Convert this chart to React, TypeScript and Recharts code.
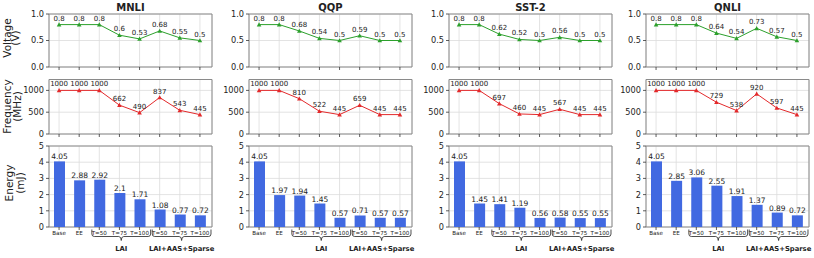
import React from 'react';
import {
  LineChart,
  ComposedChart,
  Line,
  Bar,
  XAxis,
  YAxis,
  CartesianGrid,
  LabelList,
  ReferenceArea,
} from 'recharts';

// ---------------- data ----------------
const categories = ['Base', 'EE', 'T=50', 'T=75', 'T=100', 'T=50', 'T=75', 'T=100'];
const datasets = ['MNLI', 'QQP', 'SST-2', 'QNLI'];

const mnliVoltage = [0.8, 0.8, 0.8, 0.6, 0.53, 0.68, 0.55, 0.5];
const mnliFreq = [1000, 1000, 1000, 662, 490, 837, 543, 445];
const mnliEnergy = [4.05, 2.88, 2.92, 2.1, 1.71, 1.08, 0.77, 0.72];

const qqpVoltage = [0.8, 0.8, 0.68, 0.54, 0.5, 0.59, 0.5, 0.5];
const qqpFreq = [1000, 1000, 810, 522, 445, 659, 445, 445];
const qqpEnergy = [4.05, 1.97, 1.94, 1.45, 0.57, 0.71, 0.57, 0.57];

const sstVoltage = [0.8, 0.8, 0.62, 0.52, 0.5, 0.56, 0.5, 0.5];
const sstFreq = [1000, 1000, 697, 460, 445, 567, 445, 445];
const sstEnergy = [4.05, 1.45, 1.41, 1.19, 0.56, 0.58, 0.55, 0.55];

const qnliVoltage = [0.8, 0.8, 0.8, 0.64, 0.54, 0.73, 0.57, 0.5];
const qnliFreq = [1000, 1000, 1000, 729, 538, 920, 597, 445];
const qnliEnergy = [4.05, 2.85, 3.06, 2.55, 1.91, 1.37, 0.89, 0.72];

const groups = [
  { label: 'LAI', from: 2, to: 4 },
  { label: 'LAI+AAS+Sparse', from: 5, to: 7 },
];

const voltageTicks = [0, 0.5, 1];
const freqTicks = [0, 500, 1000];
const energyTicks = [0, 1, 2, 3, 4, 5];

const seriesByDataset = [
  { v: mnliVoltage, f: mnliFreq, e: mnliEnergy },
  { v: qqpVoltage, f: qqpFreq, e: qqpEnergy },
  { v: sstVoltage, f: sstFreq, e: sstEnergy },
  { v: qnliVoltage, f: qnliFreq, e: qnliEnergy },
];

// ---------------- layout ----------------
const COL_LEFT = [49, 249, 449, 646];
const PW = 163;
const AX = 45;
const RIGHT_PAD = 8;
const X_DOMAIN: [number, number] = [-0.5, 7.6];
const xTicks = categories.map((_, i) => i);
const FONT = 'DejaVu Sans, sans-serif';

const GREEN = '#2ca02c';
const RED = '#e3292b';
const BLUE = '#4169e1';
const FRAME = '#8a8a8a';
const GRID = '#dcdcdc';
const TEXT = '#222';

const ROWCFG = {
  volt: { top: 0, mt: 14, h: 53, domain: [0, 1] as [number, number], ticks: voltageTicks, fmt: (v: number) => v.toFixed(1) },
  freq: { top: 70, mt: 9.5, h: 54.5, domain: [0, 1250] as [number, number], ticks: freqTicks, fmt: (v: number) => String(v) },
  energy: { top: 138, mt: 8, h: 81, domain: [0, 5] as [number, number], ticks: energyTicks, fmt: (v: number) => String(v) },
};

function Tri(props: any) {
  const { cx, cy, fill } = props;
  if (cx == null || cy == null) return null;
  const s = 2.3;
  return (
    <polygon
      points={`${cx},${cy - s} ${cx - s},${cy + s * 0.8} ${cx + s},${cy + s * 0.8}`}
      fill={fill}
    />
  );
}

function LinePanel({ rows, dataKey, color, cfg }: any) {
  const H = cfg.mt + cfg.h + 6;
  return (
    <LineChart
      width={AX + PW + RIGHT_PAD}
      height={H}
      data={rows}
      margin={{ top: cfg.mt, right: RIGHT_PAD, bottom: 0, left: 0 }}
    >
      <CartesianGrid stroke={GRID} strokeWidth={0.8} />
      <XAxis
        type="number"
        dataKey="i"
        domain={X_DOMAIN}
        ticks={xTicks}
        interval={0}
        allowDataOverflow
        tickFormatter={() => ''}
        tickSize={3}
        height={6}
        axisLine={false}
        tickLine={{ stroke: '#333', strokeWidth: 0.8 }}
      />
      <YAxis
        type="number"
        width={AX}
        domain={cfg.domain}
        ticks={cfg.ticks}
        interval={0}
        allowDataOverflow
        tickFormatter={cfg.fmt}
        tickSize={3}
        tickMargin={2}
        axisLine={false}
        tick={{ fontSize: 8.2, fill: TEXT, fontFamily: FONT }}
        tickLine={{ stroke: '#333', strokeWidth: 0.8 }}
      />
      <ReferenceArea
        x1={X_DOMAIN[0]}
        x2={X_DOMAIN[1]}
        y1={cfg.domain[0]}
        y2={cfg.domain[1]}
        fill="none"
        fillOpacity={0}
        stroke={FRAME}
        strokeWidth={1}
        ifOverflow="visible"
      />
      <Line
        type="linear"
        dataKey={dataKey}
        stroke={color}
        strokeWidth={1}
        isAnimationActive={false}
        activeDot={false}
        dot={(p: any) => <Tri key={`d${p.index}`} cx={p.cx} cy={p.cy} fill={color} />}
      >
        <LabelList
          dataKey={dataKey}
          position="top"
          offset={4}
          fontSize={7}
          fill={TEXT}
          fontFamily={FONT}
        />
      </Line>
    </LineChart>
  );
}

function EnergyTick(props: any) {
  const { x, y, payload } = props;
  const idx = payload.value as number;
  const unit = PW / (X_DOMAIN[1] - X_DOMAIN[0]);
  const baseY = y - 5; // axis line position (tickSize + tickMargin)
  const g = groups.find((gr) => gr.from === idx);
  let bracket = null;
  if (g) {
    const x0 = x - 0.37 * unit;
    const x1 = x + (g.to - g.from + 0.55) * unit;
    const xm = (x0 + x1) / 2;
    const top = baseY + 2.5;
    const bot = baseY + 9.5;
    const r = 2.5;
    const d = `M${x0},${top} L${x0},${bot - r} Q${x0},${bot} ${x0 + r},${bot} L${xm - r},${bot} Q${xm},${bot} ${xm},${bot + 4} Q${xm},${bot} ${xm + r},${bot} L${x1 - r},${bot} Q${x1},${bot} ${x1},${bot - r} L${x1},${top}`;
    bracket = (
      <g>
        <path d={d} fill="none" stroke={TEXT} strokeWidth={0.8} />
        <text
          x={xm}
          y={baseY + 23.5}
          textAnchor="middle"
          fontSize={6.8}
          fontWeight="bold"
          fill={TEXT}
          fontFamily={FONT}
        >
          {g.label}
        </text>
      </g>
    );
  }
  return (
    <g>
      <text x={x} y={baseY + 8} textAnchor="middle" fontSize={5.6} fill={TEXT} fontFamily={FONT}>
        {categories[idx]}
      </text>
      {bracket}
    </g>
  );
}

function EnergyPanel({ rows, cfg }: any) {
  const XH = 31;
  const H = cfg.mt + cfg.h + XH;
  return (
    <ComposedChart
      width={AX + PW + RIGHT_PAD}
      height={H}
      data={rows}
      margin={{ top: cfg.mt, right: RIGHT_PAD, bottom: 0, left: 0 }}
    >
      <CartesianGrid stroke={GRID} strokeWidth={0.8} />
      <XAxis
        type="number"
        dataKey="i"
        domain={X_DOMAIN}
        ticks={xTicks}
        interval={0}
        allowDataOverflow
        tickSize={3}
        tickMargin={2}
        height={XH}
        axisLine={false}
        tickLine={{ stroke: '#333', strokeWidth: 0.8 }}
        tick={<EnergyTick />}
      />
      <YAxis
        type="number"
        width={AX}
        domain={cfg.domain}
        ticks={cfg.ticks}
        interval={0}
        allowDataOverflow
        tickFormatter={cfg.fmt}
        tickSize={3}
        tickMargin={2}
        axisLine={false}
        tick={{ fontSize: 8.2, fill: TEXT, fontFamily: FONT }}
        tickLine={{ stroke: '#333', strokeWidth: 0.8 }}
      />
      <ReferenceArea
        x1={X_DOMAIN[0]}
        x2={X_DOMAIN[1]}
        y1={cfg.domain[0]}
        y2={cfg.domain[1]}
        fill="none"
        fillOpacity={0}
        stroke={FRAME}
        strokeWidth={1}
        ifOverflow="visible"
      />
      <Bar dataKey="e" fill={BLUE} barSize={11} isAnimationActive={false}>
        <LabelList dataKey="e" position="top" offset={2} fontSize={7.5} fill={TEXT} fontFamily={FONT} />
      </Bar>
    </ComposedChart>
  );
}

function YLabel({ lines, xs, cy }: { lines: string[]; xs: number[]; cy: number }) {
  return (
    <g>
      {lines.map((t, k) => (
        <text
          key={k}
          x={xs[k]}
          y={cy}
          transform={`rotate(-90, ${xs[k]}, ${cy})`}
          textAnchor="middle"
          dominantBaseline="central"
          fontSize={10.5}
          fill={TEXT}
          fontFamily={FONT}
        >
          {t}
        </text>
      ))}
    </g>
  );
}

export default function App() {
  return (
    <div
      style={{
        position: 'absolute',
        left: 0,
        top: 0,
        width: 814,
        height: 258,
        background: '#fff',
        overflow: 'hidden',
        fontFamily: FONT,
      }}
    >
      {datasets.map((name, c) => {
        const s = seriesByDataset[c];
        const rows = categories.map((cat, i) => ({ i, cat, v: s.v[i], f: s.f[i], e: s.e[i] }));
        const left = COL_LEFT[c] - AX;
        return (
          <React.Fragment key={name}>
            <div style={{ position: 'absolute', left, top: ROWCFG.volt.top }}>
              <LinePanel rows={rows} dataKey="v" color={GREEN} cfg={ROWCFG.volt} />
            </div>
            <div style={{ position: 'absolute', left, top: ROWCFG.freq.top }}>
              <LinePanel rows={rows} dataKey="f" color={RED} cfg={ROWCFG.freq} />
            </div>
            <div style={{ position: 'absolute', left, top: ROWCFG.energy.top }}>
              <EnergyPanel rows={rows} cfg={ROWCFG.energy} />
            </div>
          </React.Fragment>
        );
      })}
      <svg
        width={814}
        height={258}
        style={{ position: 'absolute', left: 0, top: 0, pointerEvents: 'none' }}
      >
        {datasets.map((name, c) => (
          <text
            key={name}
            x={COL_LEFT[c] + PW / 2}
            y={11}
            textAnchor="middle"
            fontSize={10}
            fontWeight="bold"
            fill={TEXT}
            fontFamily={FONT}
          >
            {name}
          </text>
        ))}
        <YLabel lines={['Voltage', '(V)']} xs={[6.5, 15]} cy={38} />
        <YLabel lines={['Frequency', '(MHz)']} xs={[7, 16.5]} cy={106.5} />
        <YLabel lines={['Energy', '(mJ)']} xs={[9, 19.5]} cy={183} />
      </svg>
    </div>
  );
}
